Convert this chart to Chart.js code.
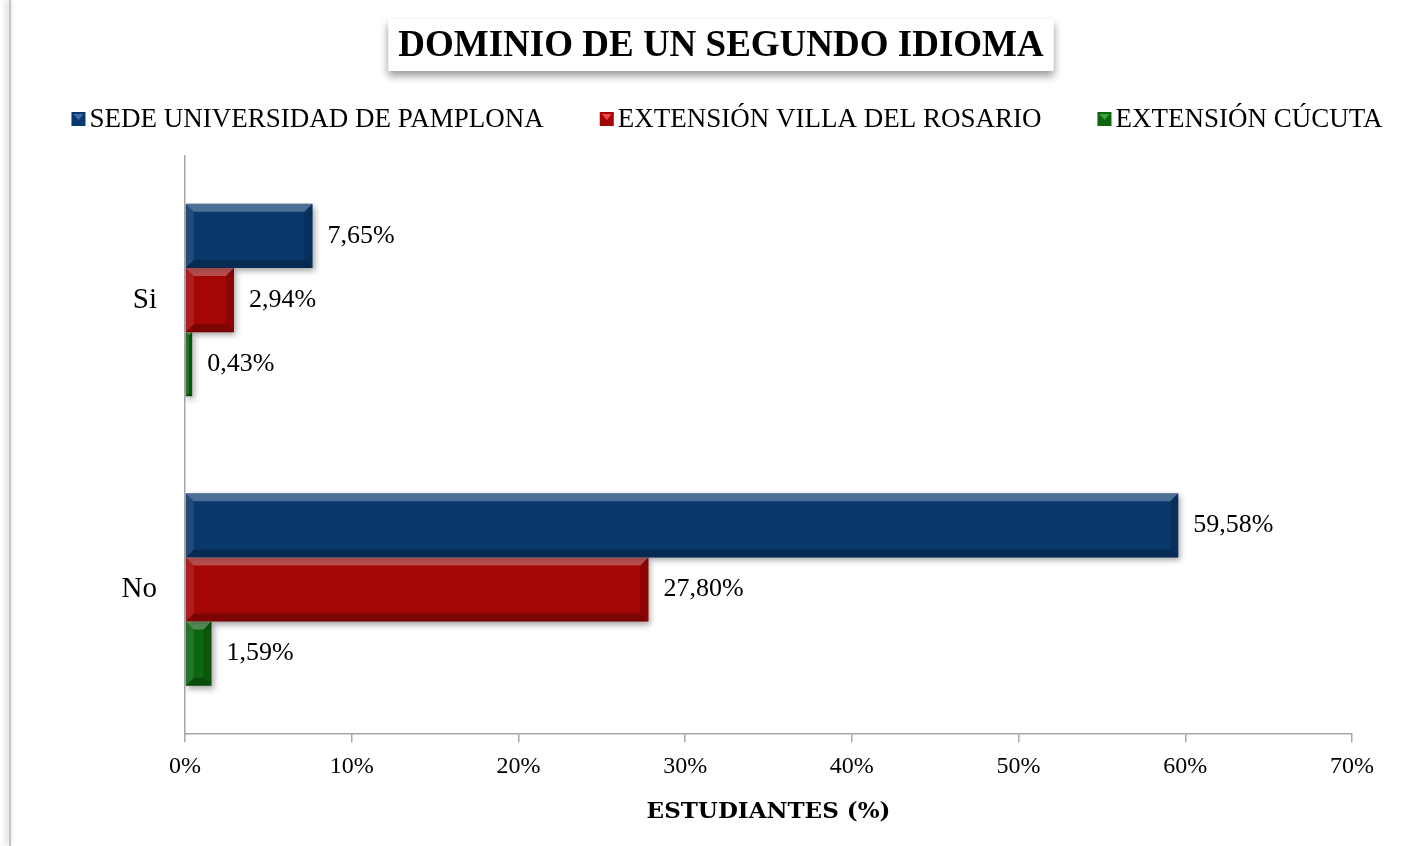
<!DOCTYPE html>
<html>
<head>
<meta charset="utf-8">
<script src="https://cdn.jsdelivr.net/npm/chart.js@4"></script>
<style>
  html, body { margin: 0; padding: 0; background: #fff; }
  #wrap { width: 1426px; height: 846px; }
</style>
</head>
<body>
<div id="wrap"><canvas id="idiomaChart" width="1426" height="846"></canvas></div>
<script>
const categories = ["Si", "No"];
const seriesNames = ["SEDE UNIVERSIDAD DE PAMPLONA", "EXTENSIÓN VILLA DEL ROSARIO", "EXTENSIÓN CÚCUTA"];
const pamplona = [7.65, 59.58];
const villaRosario = [2.94, 27.80];
const cucuta = [0.43, 1.59];
const xMax = 70;
const xStep = 10;
const chartTitle = "DOMINIO DE UN SEGUNDO IDIOMA";
const axisTitle = "ESTUDIANTES (%)";

const SERIF = "'Liberation Serif', 'Times New Roman', serif";
const fills = ["#08386c", "#a40606", "#0d650f"];
const lights = ["#3f6ea6", "#f04848", "#3aa53c"];

function fmt(v) {
  return v.toFixed(2).replace(".", ",") + "%";
}

// white page, left frame line and shaded title box
const backdrop = {
  id: "backdrop",
  beforeDraw(chart) {
    const ctx = chart.ctx;
    ctx.save();
    ctx.fillStyle = "#fff";
    ctx.fillRect(0, 0, chart.width, chart.height);

    ctx.shadowColor = "rgba(0,0,0,0.35)";
    ctx.shadowBlur = 6;
    ctx.shadowOffsetX = -2;
    ctx.fillStyle = "#c4c4c4";
    ctx.fillRect(9, 0, 2, chart.height);

    const tb = chart.titleBlock;
    ctx.font = "bold 37px " + SERIF;
    const w = ctx.measureText(chartTitle).width;
    const cx = tb.left + tb.width / 2;
    ctx.shadowColor = "rgba(0,0,0,0.4)";
    ctx.shadowBlur = 8;
    ctx.shadowOffsetX = 0;
    ctx.shadowOffsetY = 5;
    ctx.fillStyle = "#fff";
    ctx.fillRect(cx - w / 2 - 10, 19, w + 20, 52);
    ctx.restore();
  }
};

// drop shadow + bevel on the bars, value labels, legend row and axis title
const bevelBars = {
  id: "bevelBars",
  beforeDatasetsDraw(chart) {
    const ctx = chart.ctx;
    ctx.save();
    ctx.shadowColor = "rgba(0,0,0,0.35)";
    ctx.shadowBlur = 6;
    ctx.shadowOffsetX = 2;
    ctx.shadowOffsetY = 3;
  },
  afterDatasetsDraw(chart) {
    const ctx = chart.ctx;
    ctx.restore();
    ctx.save();
    chart.data.datasets.forEach((ds, i) => {
      chart.getDatasetMeta(i).data.forEach((bar, j) => {
        const l = Math.min(bar.base, bar.x), r = Math.max(bar.base, bar.x);
        const t = bar.y - bar.height / 2, bt = bar.y + bar.height / 2;
        const b = Math.min(8, (r - l) / 2, (bt - t) / 2);
        ctx.fillStyle = "rgba(255,255,255,0.28)";
        ctx.beginPath();
        ctx.moveTo(l, t); ctx.lineTo(r, t); ctx.lineTo(r - b, t + b); ctx.lineTo(l + b, t + b);
        ctx.fill();
        ctx.fillStyle = "rgba(255,255,255,0.1)";
        ctx.beginPath();
        ctx.moveTo(l, t); ctx.lineTo(l + b, t + b); ctx.lineTo(l + b, bt - b); ctx.lineTo(l, bt);
        ctx.fill();
        ctx.fillStyle = "rgba(0,0,0,0.25)";
        ctx.beginPath();
        ctx.moveTo(l, bt); ctx.lineTo(r, bt); ctx.lineTo(r - b, bt - b); ctx.lineTo(l + b, bt - b);
        ctx.fill();
        ctx.fillStyle = "rgba(0,0,0,0.15)";
        ctx.beginPath();
        ctx.moveTo(r, t); ctx.lineTo(r - b, t + b); ctx.lineTo(r - b, bt - b); ctx.lineTo(r, bt);
        ctx.fill();

        ctx.fillStyle = "#000";
        ctx.font = "26px " + SERIF;
        ctx.textAlign = "left";
        ctx.textBaseline = "middle";
        ctx.fillText(fmt(ds.data[j]), r + 15, bar.y);
      });
    });
    ctx.restore();
  },
  afterDraw(chart) {
    const ctx = chart.ctx;
    const area = chart.chartArea;
    ctx.save();
    // legend row
    ctx.font = "27px " + SERIF;
    ctx.textBaseline = "middle";
    const box = 14, gapText = 4, gapItem = 56;
    const widths = chart.data.datasets.map(ds => box + gapText + ctx.measureText(ds.label).width);
    const total = widths.reduce((a, b) => a + b, 0) + gapItem * (widths.length - 1);
    let x = chart.width / 2 + 14 - total / 2;
    const y = 119;
    chart.data.datasets.forEach((ds, i) => {
      ctx.fillStyle = fills[i];
      ctx.fillRect(x, y - box / 2, box, box);
      ctx.fillStyle = lights[i];
      ctx.beginPath();
      ctx.moveTo(x + 2, y - box / 2 + 2);
      ctx.lineTo(x + box - 2, y - box / 2 + 2);
      ctx.lineTo(x + box / 2, y + 1);
      ctx.fill();
      ctx.fillStyle = "#000";
      ctx.textAlign = "left";
      ctx.fillText(ds.label, x + box + gapText, y + 1);
      x += widths[i] + gapItem;
    });

    // x axis title
    ctx.font = "bold 23px 'DejaVu Serif', serif";
    ctx.textAlign = "center";
    ctx.fillStyle = "#000";
    ctx.fillText(axisTitle, (area.left + area.right) / 2, 812);
    ctx.restore();
  }
};

new Chart(document.getElementById("idiomaChart"), {
  type: "bar",
  data: {
    labels: categories,
    datasets: [
      { label: seriesNames[0], data: pamplona, backgroundColor: fills[0] },
      { label: seriesNames[1], data: villaRosario, backgroundColor: fills[1] },
      { label: seriesNames[2], data: cucuta, backgroundColor: fills[2] },
    ],
  },
  options: {
    indexAxis: "y",
    responsive: false,
    devicePixelRatio: 1,
    animation: false,
    categoryPercentage: 0.665,
    barPercentage: 1,
    layout: { padding: { left: 90, right: 74, top: 0, bottom: 55 } },
    plugins: {
      legend: { display: false },
      tooltip: { enabled: false },
      title: {
        display: true,
        text: chartTitle,
        color: "#000",
        font: { family: SERIF, size: 37, weight: "bold", lineHeight: 1.2 },
        padding: { top: 24, bottom: 87 },
      },
    },
    scales: {
      x: {
        min: 0,
        max: xMax,
        ticks: {
          stepSize: xStep,
          color: "#000",
          padding: 10,
          font: { family: SERIF, size: 24 },
          callback: v => v + "%",
        },
        grid: { drawOnChartArea: false, drawTicks: true, tickLength: 8, color: "#a6a6a6", lineWidth: 1.5 },
        border: { color: "#a6a6a6", width: 1.5 },
      },
      y: {
        ticks: { color: "#000", padding: 28, font: { family: SERIF, size: 29 } },
        grid: { display: false, drawTicks: false },
        border: { color: "#a6a6a6", width: 1.5 },
        afterFit: s => { s.width = 95; },
      },
    },
  },
  plugins: [backdrop, bevelBars],
});
</script>
</body>
</html>
